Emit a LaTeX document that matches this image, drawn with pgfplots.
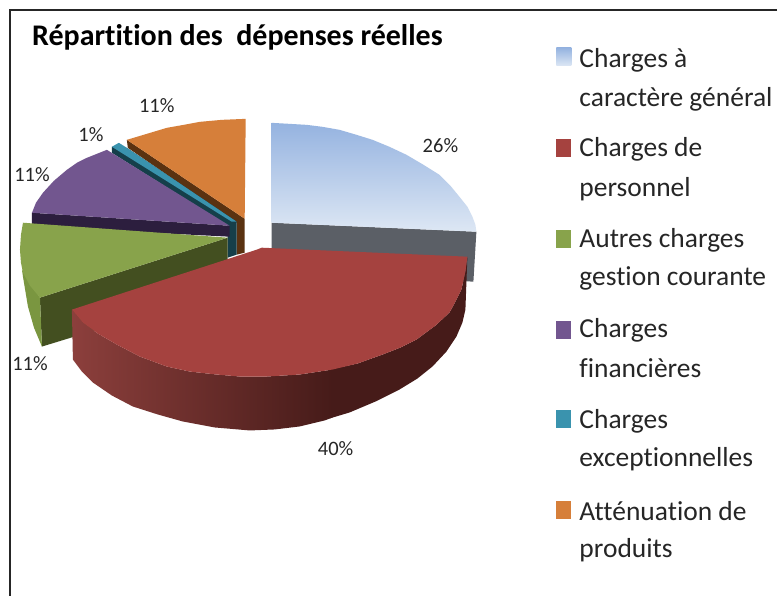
\documentclass[border=0pt]{standalone}
\usepackage{pgfplots}
\pgfplotsset{compat=1.18}
\usepackage{fontspec}
\setmainfont{Carlito}[RawFeature={-liga;-clig;-dlig}]
\definecolor{txt}{HTML}{262626}
\definecolor{bluetop}{HTML}{95B3E0}
\definecolor{bluebot}{HTML}{DDE7F4}
\definecolor{blueside}{HTML}{5B5F66}
\definecolor{redtop}{HTML}{A5423F}
\definecolor{redL}{HTML}{8C3F3C}
\definecolor{redD}{HTML}{461B19}
\definecolor{greentop}{HTML}{88A34B}
\definecolor{greenside}{HTML}{434F20}
\definecolor{greenarc}{HTML}{7A9640}
\definecolor{purpletop}{HTML}{72568F}
\definecolor{purpleside}{HTML}{2C1E3E}
\definecolor{tealtop}{HTML}{3A93AE}
\definecolor{tealside}{HTML}{153F4A}
\definecolor{orangetop}{HTML}{D67F3A}
\definecolor{orangeside}{HTML}{5A3211}
\tikzset{lab/.style={inner sep=0pt, font=\fontsize{20.5}{20}\selectfont, text=txt},
 leg/.style={anchor=west, inner sep=0pt, font=\fontsize{27.5}{28}\selectfont, text=txt}}
\begin{document}
\begin{tikzpicture}
\begin{axis}[
  scale only axis, width=778pt, height=597pt,
  xmin=0, xmax=778, ymin=0, ymax=597, y dir=reverse,
  hide axis, clip=false,
  every axis plot/.append style={forget plot, draw=none, line width=0pt, mark=none}
]
% page background, fixes the picture's extent
\addplot[fill=white] coordinates {(0,0) (778,0) (778,597) (0,597)} --cycle;
% frame
\addplot[draw=black!85, line width=2pt] coordinates {(778,10) (10,10) (10,597)};
% orange
\addplot[fill=orangeside] coordinates {(127,140) (128,148) (237,223) (237,255) (245,253) (245,219)} --cycle;
\addplot[fill=orangetop] coordinates {(127,140) (147,134) (167,128) (184,125) (200,122) (222,120) (246,119) (245,219)} --cycle;
% teal
\addplot[fill=tealside] coordinates {(112,147) (112,153) (228,226) (228,258) (237,255) (237,222) (127,148)} --cycle;
\addplot[fill=tealtop] coordinates {(112,147) (119,143) (127,148) (237,222) (232,222)} --cycle;
% purple
\addplot[fill=purpleside] coordinates {(32,213) (32,227) (230,237) (230,226)} --cycle;
\addplot[fill=purpletop] coordinates {(32,213) (36,203) (43,193) (54,181) (67,170) (77,163) (87,158) (97,154) (107,150) (230,226)} --cycle;
% green
\addplot[fill=greenside] coordinates {(228,238) (40,298) (42,347) (228,290)} --cycle;
\addplot[fill=greenarc] coordinates {(22,270) (23,277) (28,307) (34,328) (42,347) (40,298)} --cycle;
\addplot[fill=greentop] coordinates {(23,223) (21,235) (20,250) (21,263) (23,273) (30,286) (40,298) (228,238)} --cycle;
% blue
\addplot[fill=blueside] coordinates {(272,223) (477,232) (474,282) (272,272)} --cycle;
\addplot[top color=bluetop, bottom color=bluebot] coordinates {(272,123) (290,124) (307,125) (323,127) (340,130) (357,135) (373,140) (390,147) (407,155) (424,165) (440,175) (451,186) (460,197) (468,207) (473,217) (476,225) (477,232) (272,223)} --cycle;
% red side
\addplot[fill=redD] coordinates {(330,370) (358,364) (383,355) (401,348) (417,340) (436,326) (450,313) (455,304) (462,290) (466,272) (468,257) (467,283) (466,310) (463,323) (457,337) (447,352) (433,367) (418,379) (400,390) (376,402) (350,413) (330,419)} --cycle;
\addplot[left color=redL, right color=redD] coordinates {(72,310) (83,323) (98,334) (117,345) (140,357) (167,367) (190,372) (217,375) (240,377) (267,377) (300,375) (333,370) (333,418) (325,421) (300,427) (275,430) (250,431) (215,428) (183,422) (158,415) (133,407) (112,396) (93,383) (82,372) (73,360)} --cycle;
% red top
\addplot[fill=redtop] coordinates {(257,250) (262,248) (468,257) (466,272) (462,290) (455,304) (450,313) (436,326) (417,340) (401,348) (383,355) (358,364) (333,370) (300,375) (267,377) (240,377) (217,375) (190,372) (167,367) (140,357) (117,345) (98,334) (83,323) (72,310)} --cycle;
% legend keys
\addplot[top color=bluetop, bottom color=bluebot] coordinates {(557,48) (572,48) (572,66) (557,66)} --cycle;
\addplot[fill=redtop] coordinates {(557,139) (572,139) (572,157) (557,157)} --cycle;
\addplot[fill=greentop] coordinates {(557,230) (572,230) (572,248) (557,248)} --cycle;
\addplot[fill=purpletop] coordinates {(557,321) (572,321) (572,339) (557,339)} --cycle;
\addplot[fill=tealtop] coordinates {(557,411) (572,411) (572,429) (557,429)} --cycle;
\addplot[fill=orangetop] coordinates {(557,502) (572,502) (572,520) (557,520)} --cycle;
% text
\node[anchor=west, inner sep=0pt, font=\fontsize{30}{30}\selectfont\bfseries, text=black] at (axis cs:32,37) {Répartition des\ \ dépenses réelles};
\node[lab] at (axis cs:441,146) {26\%};
\node[lab] at (axis cs:336,449) {40\%};
\node[lab] at (axis cs:30,364) {11\%};
\node[lab] at (axis cs:32,175) {11\%};
\node[lab] at (axis cs:91,135) {1\%};
\node[lab] at (axis cs:157,106) {11\%};
\node[leg] at (axis cs:580,60) {Charges à};
\node[leg] at (axis cs:580,99) {caractère général};
\node[leg] at (axis cs:580,150) {Charges de};
\node[leg] at (axis cs:580,189) {personnel};
\node[leg] at (axis cs:580,241) {Autres charges};
\node[leg] at (axis cs:580,279) {gestion courante};
\node[leg] at (axis cs:580,331) {Charges};
\node[leg] at (axis cs:580,369) {financières};
\node[leg] at (axis cs:580,422) {Charges};
\node[leg] at (axis cs:580,460) {exceptionnelles};
\node[leg] at (axis cs:580,512) {Atténuation de};
\node[leg] at (axis cs:580,551) {produits};
\end{axis}
\end{tikzpicture}
\end{document}
